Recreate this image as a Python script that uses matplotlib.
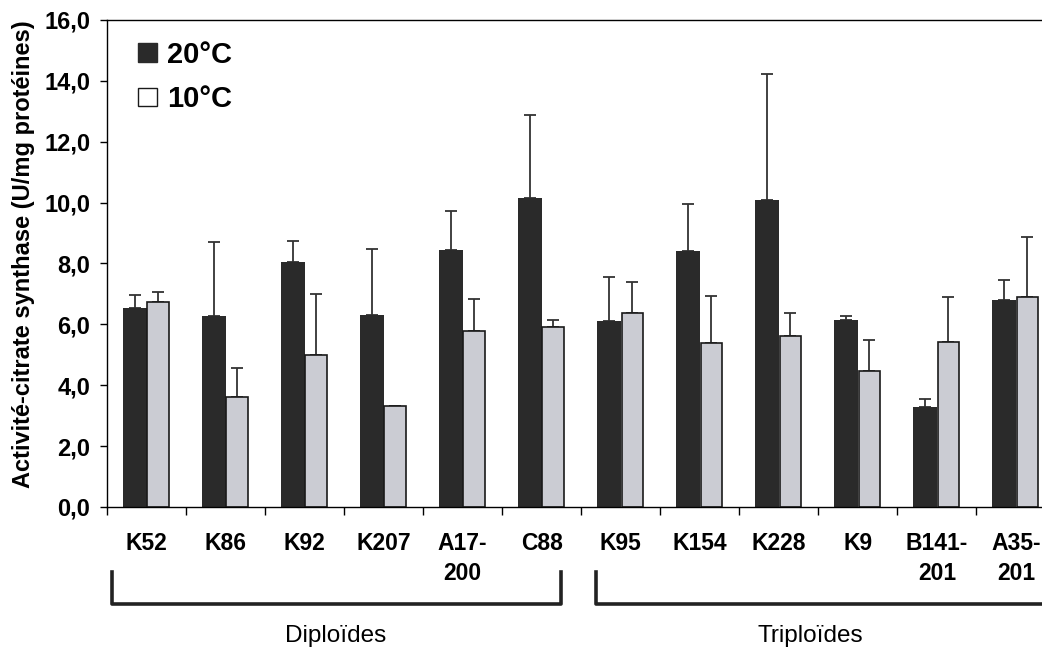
import numpy as np
import matplotlib
matplotlib.use('Agg')
import matplotlib.pyplot as plt
from matplotlib.patches import Patch
from matplotlib.lines import Line2D
import matplotlib.transforms as mtransforms

plt.rcParams['font.family'] = ['Liberation Sans', 'DejaVu Sans']

clones = ['K52', 'K86', 'K92', 'K207', 'A17-\n200', 'C88',
          'K95', 'K154', 'K228', 'K9', 'B141-\n201', 'A35-\n201']
act_20 = [6.55, 6.28, 8.04, 6.32, 8.44, 10.14, 6.10, 8.41, 10.09, 6.13, 3.27, 6.80]
top_20 = [6.95, 8.70, 8.73, 8.49, 9.71, 12.89, 7.54, 9.95, 14.22, 6.29, 3.55, 7.45]
act_10 = [6.72, 3.62, 5.01, 3.32, 5.78, 5.92, 6.38, 5.39, 5.61, 4.47, 5.43, 6.90]
top_10 = [7.07, 4.57, 7.00, 3.32, 6.82, 6.16, 7.40, 6.94, 6.38, 5.50, 6.90, 8.87]
groups = ['Diploïdes', 'Triploïdes']

act_20 = np.array(act_20)
act_10 = np.array(act_10)
err_20 = np.array(top_20) - act_20
err_10 = np.array(top_10) - act_10

fig = plt.figure(figsize=(10.42, 6.49), dpi=100)
ax = fig.add_axes([0.1027, 0.2188, 0.8973, 0.7504])

x = np.arange(len(clones))
ax.bar(x + 0.20, act_20, width=0.30, align='edge', color='#2a2a2a', zorder=2)
ax.bar(x + 0.51, act_10, width=0.27, align='edge', color='#cbccd3',
       edgecolor='#1a1a1a', linewidth=1.2, zorder=2)
ax.errorbar(x + 0.35, act_20, yerr=[np.zeros_like(err_20), err_20], fmt='none',
            ecolor='#333333', elinewidth=1.3, capsize=4, capthick=1.3, zorder=1)
ax.errorbar(x + 0.645, act_10, yerr=[np.zeros_like(err_10), err_10], fmt='none',
            ecolor='#333333', elinewidth=1.3, capsize=4, capthick=1.3, zorder=1)

ax.set_yticks(np.arange(0, 17, 2))
ax.set_yticklabels([f'{v:.1f}'.replace('.', ',') for v in np.arange(0, 17, 2)],
                   fontsize=17, fontweight='bold')
ax.set_xticks(x + 0.5)
ax.set_xticklabels(clones, fontsize=16.5, fontweight='bold', linespacing=1.4)
ax.set_xticks(np.arange(0, 13), minor=True)
ax.set_xlim(0, 11.83)
ax.set_ylim(0, 16)
ax.tick_params(axis='x', which='major', length=0, pad=18)
ax.tick_params(axis='x', which='minor', length=6, width=1, direction='out')
ax.tick_params(axis='y', length=5, width=1, pad=7)
ax.spines['right'].set_visible(False)
for s in ['left', 'bottom', 'top']:
    ax.spines[s].set_linewidth(1.0)

ax.set_ylabel('Activité-citrate synthase (U/mg protéines)', fontsize=17,
              fontweight='bold')
ax.yaxis.set_label_coords(-0.077, 0.52)

leg = ax.legend(handles=[Patch(facecolor='#2a2a2a', edgecolor='#2a2a2a'),
                         Patch(facecolor='white', edgecolor='#1a1a1a', linewidth=1)],
                labels=['20°C', '10°C'], loc='upper left',
                bbox_to_anchor=(0.033, 0.957), frameon=False,
                borderpad=0, borderaxespad=0,
                prop={'size': 21, 'weight': 'bold'},
                handlelength=0.65, handleheight=0.62, handletextpad=0.35,
                labelspacing=0.56)

# brackets below the clone labels
trans = mtransforms.blended_transform_factory(ax.transData, ax.transAxes)
bracket_ends = [(0.06, 5.74), (6.19, 12.2)]
for x0, x1 in bracket_ends:
    ax.add_line(Line2D([x0, x0, x1, x1], [-0.133, -0.199, -0.199, -0.133],
                       transform=trans, color='#222222', linewidth=2.6,
                       clip_on=False))
ax.text(2.89, -0.265, groups[0], transform=trans, ha='center', va='center',
        fontsize=17.5)
ax.text(8.9, -0.265, groups[1], transform=trans, ha='center', va='center',
        fontsize=17.5)

fig.savefig('out.png', dpi=100)
